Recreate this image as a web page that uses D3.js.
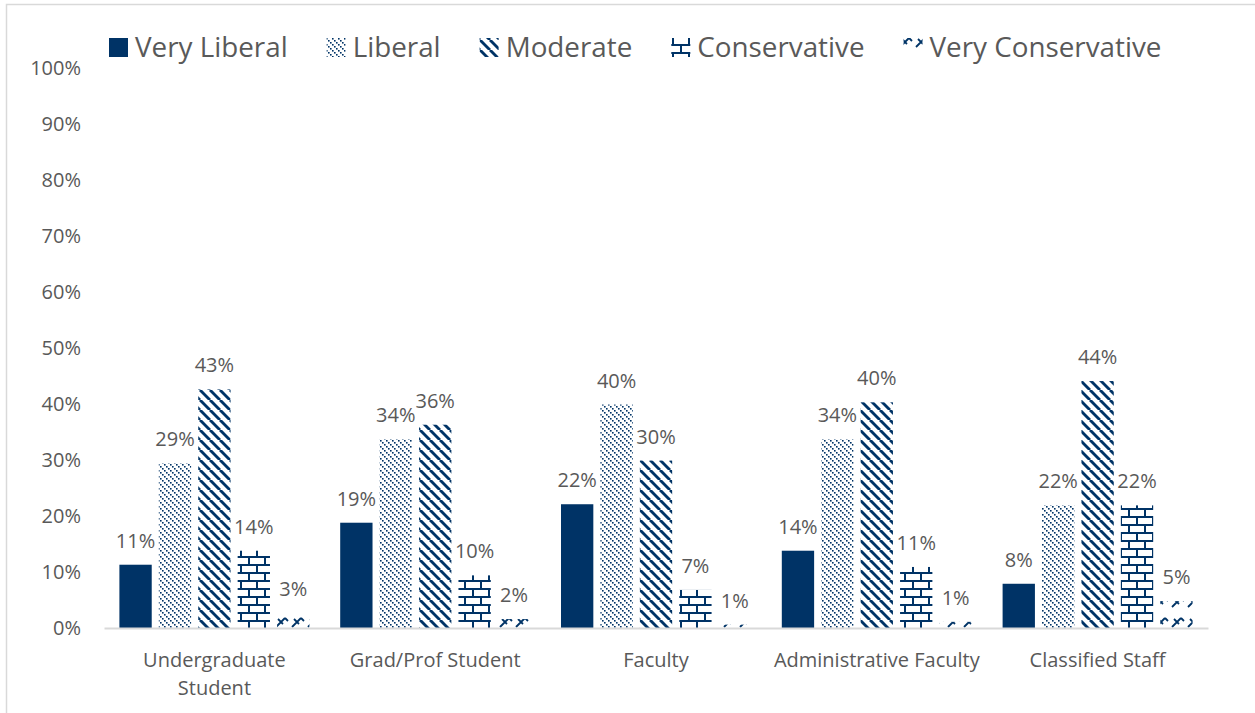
<!DOCTYPE html>
<html><head><meta charset="utf-8">
<script src="https://cdn.jsdelivr.net/npm/d3@7"></script>
<style>html,body{margin:0;padding:0;background:#fff;}svg{display:block;}</style>
</head><body>
<svg id="chart" width="1255" height="713"></svg>
<script>
const categories = ["Undergraduate Student","Grad/Prof Student","Faculty","Administrative Faculty","Classified Staff"];
const categoryLines = [["Undergraduate","Student"],["Grad/Prof Student"],["Faculty"],["Administrative Faculty"],["Classified Staff"]];
const seriesNames = ["Very Liberal","Liberal","Moderate","Conservative","Very Conservative"];
const veryLiberal = [11.3, 18.8, 22.1, 13.8, 7.9];
const liberal = [29.4, 33.7, 39.9, 33.7, 21.9];
const moderate = [42.6, 36.3, 29.9, 40.3, 44.1];
const conservative = [13.8, 9.4, 6.8, 10.9, 21.9];
const veryConservative = [2.7, 1.6, 0.6, 1.1, 4.8];
const valueLabels = [
  ["11%","19%","22%","14%","8%"],
  ["29%","34%","40%","34%","22%"],
  ["43%","36%","30%","40%","44%"],
  ["14%","10%","7%","11%","22%"],
  ["3%","2%","1%","1%","5%"]
];
const yTicks = [0,10,20,30,40,50,60,70,80,90,100];
const seriesValues = [veryLiberal, liberal, moderate, conservative, veryConservative];

const NAVY = "#003366", TXT = "#595959", FONT = "'Open Sans', sans-serif";
const svg = d3.select("#chart");

// frame
svg.append("rect").attr("x",6.5).attr("y",4.5).attr("width",1400).attr("height",900)
  .attr("fill","none").attr("stroke","#d9d9d9").attr("stroke-width",1.5);

// patterns
const defs = svg.append("defs");
// Liberal: dotted light downward diagonal
let p = defs.append("pattern").attr("id","p1").attr("patternUnits","userSpaceOnUse").attr("width",6).attr("height",6);
p.append("rect").attr("width",6).attr("height",6).attr("fill","#fff");
[0,2,4].forEach(k=>p.append("rect").attr("x",k).attr("y",k).attr("width",1.6).attr("height",1.6).attr("fill",NAVY));
// Moderate: wide downward diagonal
p = defs.append("pattern").attr("id","p2").attr("patternUnits","userSpaceOnUse").attr("width",10).attr("height",10);
p.append("rect").attr("width",10).attr("height",10).attr("fill","#fff");
[-10,0,10].forEach(k=>p.append("line").attr("x1",k).attr("y1",0).attr("x2",k+10).attr("y2",10)
  .attr("stroke",NAVY).attr("stroke-width",2.9));
// Conservative: horizontal brick
p = defs.append("pattern").attr("id","p3").attr("patternUnits","userSpaceOnUse").attr("width",16).attr("height",16).attr("y",4);
p.append("rect").attr("width",16).attr("height",16).attr("fill","#fff");
p.append("rect").attr("x",0).attr("y",0).attr("width",16).attr("height",2).attr("fill",NAVY);
p.append("rect").attr("x",0).attr("y",8).attr("width",16).attr("height",2).attr("fill",NAVY);
p.append("rect").attr("x",0).attr("y",0).attr("width",2).attr("height",8).attr("fill",NAVY);
p.append("rect").attr("x",8).attr("y",8).attr("width",2).attr("height",8).attr("fill",NAVY);
// Very Conservative: divot-like
p = defs.append("pattern").attr("id","p4").attr("patternUnits","userSpaceOnUse").attr("width",16).attr("height",20).attr("y",8).attr("x",2);
p.append("rect").attr("width",16).attr("height",20).attr("fill","#fff");
p.append("path").attr("d","M2,19 L11,10 M4,11 L9,16 M11,10 L14,13").attr("stroke",NAVY).attr("stroke-width",1.8).attr("fill","none");
const fills = [NAVY,"url(#p1)","url(#p2)","url(#p3)","url(#p4)"];

// scales
const x0 = d3.scaleBand().domain(categories).range([104,1208]);
const grpPad = 15.4;
const x1 = d3.scaleBand().domain(seriesNames).range([grpPad, x0.bandwidth()-grpPad]).paddingInner(0.18).paddingOuter(0);
const y = d3.scaleLinear().domain([0,100]).range([628,68]);

// y axis
const yAxis = svg.append("g").attr("transform","translate(84,0)")
  .call(d3.axisLeft(y).tickValues(yTicks).tickFormat(d=>d+"%").tickSize(0).tickPadding(3));
yAxis.select(".domain").remove();
yAxis.selectAll("text").attr("font-family",FONT).attr("font-size",20).attr("fill",TXT);

// bars
seriesNames.forEach((s,si)=>{
  const g = svg.append("g");
  g.selectAll("rect").data(seriesValues[si]).join("rect")
    .attr("x",(d,i)=>x0(categories[i])+x1(s))
    .attr("y",d=>y(d))
    .attr("width",x1.bandwidth())
    .attr("height",d=>y(0)-y(d))
    .attr("fill",fills[si]);
  g.selectAll("text").data(seriesValues[si]).join("text")
    .attr("x",(d,i)=>x0(categories[i])+x1(s)+x1.bandwidth()/2)
    .attr("y",d=>y(d)-17)
    .attr("text-anchor","middle")
    .attr("font-family",FONT).attr("font-size",20).attr("fill",TXT)
    .text((d,i)=>valueLabels[si][i]);
});

// x axis
const xAxis = svg.append("g").attr("transform","translate(0,628)")
  .call(d3.axisBottom(x0).tickSize(0).tickFormat(""));
xAxis.select(".domain").attr("stroke","#d9d9d9").attr("stroke-width",2);
categories.forEach((c,i)=>{
  const t = svg.append("text").attr("text-anchor","middle")
    .attr("font-family",FONT).attr("font-size",20).attr("fill",TXT);
  categoryLines[i].forEach((ln,li)=>{
    t.append("tspan").attr("x",x0(c)+x0.bandwidth()/2).attr("y",667+li*28).text(ln);
  });
});

// legend
const leg = svg.append("g");
let lx = 109;
seriesNames.forEach((s,si)=>{
  leg.append("rect").attr("x",lx).attr("y",38).attr("width",19).attr("height",19).attr("fill",fills[si]);
  const t = leg.append("text").attr("x",lx+26).attr("y",57)
    .attr("font-family",FONT).attr("font-size",27.8).attr("fill",TXT).text(s);
  lx = lx + 26 + t.node().getComputedTextLength() + 39;
});
</script>
</body></html>
